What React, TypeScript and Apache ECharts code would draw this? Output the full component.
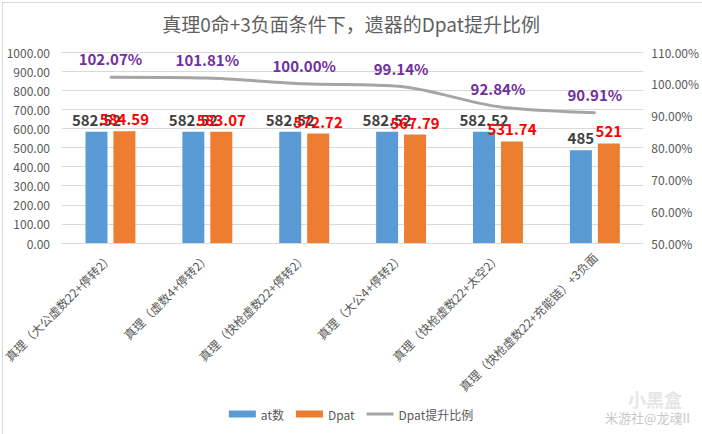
import React, { useEffect, useRef } from "react";
import * as echarts from "echarts";

const title = "真理0命+3负面条件下，遗器的Dpat提升比例";
const categories = [
  "真理（大公虚数22+停转2）",
  "真理（虚数4+停转2）",
  "真理（快枪虚数22+停转2）",
  "真理（大公4+停转2）",
  "真理（快枪虚数22+太空2）",
  "真理（快枪虚数22+充能链）+3负面",
];
const atValues = [582.52, 582.52, 582.52, 582.52, 582.52, 485];
const atLabels = ["582.52", "582.52", "582.52", "582.52", "582.52", "485"];
const dpatValues = [584.59, 583.07, 572.72, 567.79, 531.74, 521];
const dpatLabels = ["584.59", "583.07", "572.72", "567.79", "531.74", "521"];
const ratioValues = [102.07, 101.81, 100.0, 99.14, 92.84, 90.91];
const seriesNames = ["at数", "Dpat", "Dpat提升比例"];

const FONT = "'Noto Sans CJK SC', 'Microsoft YaHei', sans-serif";
const TXT = "#595959";

export default function App() {
  const ref = useRef<HTMLDivElement>(null);
  useEffect(() => {
    if (!ref.current) return;
    const chart = echarts.init(ref.current, undefined, { renderer: "svg" });
    chart.setOption({
      animation: false,
      backgroundColor: "#ffffff",
      textStyle: { fontFamily: FONT },
      title: {
        text: title,
        left: "center",
        top: 9,
        textStyle: { fontSize: 19, fontWeight: "normal", color: "#606060", fontFamily: FONT },
      },
      grid: { left: 62, right: 57, top: 52, bottom: 191, containLabel: false },
      legend: {
        bottom: 9,
        left: "center",
        itemWidth: 27,
        itemHeight: 7,
        itemGap: 12,
        textStyle: { fontSize: 12, color: TXT, fontFamily: FONT },
        data: [
          { name: seriesNames[0], icon: "rect" },
          { name: seriesNames[1], icon: "rect" },
          { name: seriesNames[2], icon: "path://M0,0 L27,0 L27,3 L0,3 Z" },
        ],
      },
      xAxis: {
        type: "category",
        data: categories,
        axisLine: { lineStyle: { color: "#D9D9D9" } },
        axisTick: { show: false },
        axisLabel: {
          rotate: 45,
          interval: 0,
          fontSize: 12,
          color: TXT,
          margin: 12,
          fontFamily: FONT,
        },
      },
      yAxis: [
        {
          type: "value",
          min: 0,
          max: 1000,
          interval: 100,
          axisLine: { show: false },
          axisTick: { show: false },
          axisLabel: {
            fontSize: 12,
            color: TXT,
            margin: 12,
            formatter: (v: number) => v.toFixed(2),
          },
          splitLine: { lineStyle: { color: "#D9D9D9" } },
        },
        {
          type: "value",
          min: 50,
          max: 110,
          interval: 10,
          axisLine: { show: false },
          axisTick: { show: false },
          axisLabel: {
            fontSize: 12,
            color: TXT,
            margin: 8,
            formatter: (v: number) => v.toFixed(2) + "%",
          },
          splitLine: { show: false },
        },
      ],
      series: [
        {
          name: seriesNames[0],
          type: "bar",
          data: atValues,
          barWidth: 22,
          barGap: "27%",
          itemStyle: { color: "#5B9BD5" },
          label: {
            show: true,
            position: "top",
            distance: 5,
            fontSize: 15,
            fontWeight: "bold",
            color: "#404040",
            formatter: (p: any) => atLabels[p.dataIndex],
          },
        },
        {
          name: seriesNames[1],
          type: "bar",
          data: dpatValues,
          barWidth: 22,
          itemStyle: { color: "#ED7D31" },
          label: {
            show: true,
            position: "top",
            distance: 5,
            fontSize: 15,
            fontWeight: "bold",
            color: "#FF0000",
            formatter: (p: any) => dpatLabels[p.dataIndex],
          },
          z: 3,
        },
        {
          name: seriesNames[2],
          type: "line",
          yAxisIndex: 1,
          data: ratioValues,
          smooth: 0.3,
          symbol: "circle",
          symbolSize: 2,
          showSymbol: true,
          lineStyle: { color: "#A5A5A5", width: 3 },
          itemStyle: { color: "#A5A5A5" },
          label: {
            show: true,
            position: "top",
            distance: 10,
            fontSize: 15,
            fontWeight: "bold",
            color: "#7030A0",
            formatter: (p: any) => ratioValues[p.dataIndex].toFixed(2) + "%",
          },
        },
      ],
      graphic: [
        {
          type: "rect",
          left: 0,
          top: 0,
          shape: { x: 0.5, y: 0.5, width: 701, height: 433 },
          style: { fill: "none", stroke: "#D9D9D9", lineWidth: 1 },
          silent: true,
        },
        {
          type: "text",
          right: 12,
          bottom: 10,
          style: { text: "米游社@龙魂II", fontSize: 13, fill: "#C8C8C8", fontFamily: FONT },
          silent: true,
        },
        {
          type: "text",
          right: 20,
          bottom: 26,
          style: { text: "小黑盒", fontSize: 18, fill: "#E6E6E6", fontFamily: FONT, fontWeight: "bold" },
          silent: true,
        },
      ],
    });
    return () => chart.dispose();
  }, []);
  return (
    <div
      ref={ref}
      style={{ position: "fixed", left: 0, top: 0, width: 702, height: 434 }}
    />
  );
}
